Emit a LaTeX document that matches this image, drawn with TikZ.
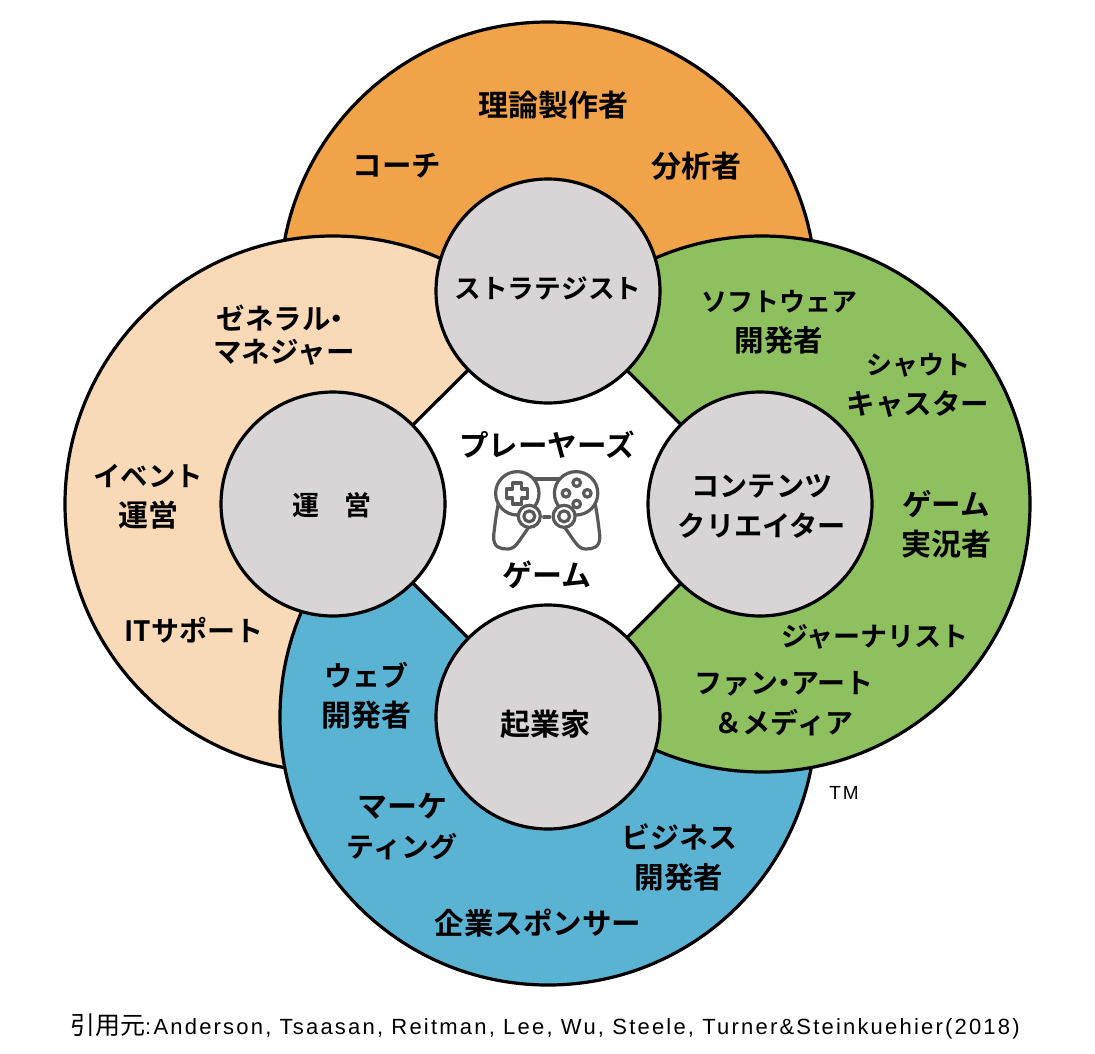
\documentclass[tikz,border=0pt]{standalone}
\usepackage{fontspec}
\setmainfont{Noto Sans CJK JP}[BoldFont={* Bold}]
\newfontfamily\footfont[LetterSpace=10]{Liberation Sans}
\newfontfamily\footcjk{Noto Sans CJK JP}
\newcommand\fs[2]{{\fontsize{#1}{40}\selectfont #2}}
\newcommand\tdot{\hspace{-.28em}・\hspace{-.28em}}
\definecolor{corange}{HTML}{F0A348}
\definecolor{cpeach}{HTML}{F8DAB8}
\definecolor{cgreen}{HTML}{8FC060}
\definecolor{cblue}{HTML}{5BB3D4}
\definecolor{cgrey}{HTML}{D9D5D7}
\definecolor{cicon}{HTML}{595959}
\tikzset{
  big/.style={draw=black,line width=3.2pt},
  hub/.style={draw=black,line width=3.2pt,fill=cgrey},
  lab/.style={font=\fontsize{26}{40}\selectfont\bfseries,align=center,inner sep=0pt,text=black},
  ic/.style={draw=cicon,line width=3.2pt,line join=round,line cap=round,fill=white},
}
\begin{document}
\begin{tikzpicture}[x=1pt,y=-1pt]
\useasboundingbox (0,0) rectangle (1095,1053);
\fill[white] (0,0) rectangle (1095,1053);
\draw[big,fill=corange] (548,290) circle (268);
\draw[big,fill=cpeach] (333,504) circle (268);
\draw[big,fill=cblue] (548,717) circle (268);
\draw[big,fill=cgreen] (762,504) circle (268);
\coordinate (T) at (548,291);
\coordinate (L) at (333,504);
\coordinate (B) at (548,717);
\coordinate (R) at (760,504);
\draw[big,fill=white] (T) -- (R) -- (B) -- (L) -- cycle;
\draw[hub] (T) circle (112);
\draw[hub] (L) circle (112);
\draw[hub] (B) circle (112);
\draw[hub] (R) circle (112);
% controller
\begin{scope}[shift={(546.7,0)}]
\foreach \s in {1,-1}{
\begin{scope}[xscale=\s]
\draw[ic] (-47,497) .. controls (-51,515) and (-52,527) .. (-53,535) .. controls (-54,548) and (-46,549) .. (-39,549) .. controls (-31,549) and (-28,541) .. (-17,526) -- (-10,510) -- cycle;
\draw[ic] (-29.4,493.3) circle (21.7);
\draw[ic] (-17.4,516.3) circle (11);
\draw[ic] (-17.4,516.3) circle (5.5);
\end{scope}}
\draw[ic,fill=none] (-12,479) -- (12,479);
\draw[ic,fill=none] (-3,517) -- (3,517);
\draw[ic] (-34,483) -- (-25,483) -- (-25,489) -- (-19,489) -- (-19,498) -- (-25,498) -- (-25,504) -- (-34,504) -- (-34,498) -- (-40,498) -- (-40,489) -- (-34,489) -- cycle;
\foreach \p/\q in {30/482.7,19.3/493.3,40.6/493.3,30/504}{
\draw[ic] (\p,\q) circle (3.8);}
\end{scope}
% labels
\node[lab] (n1) at (553,105) {\fs{30}{理論製作者}};
\node[lab] (n2) at (397,166) {\fs{29.5}{コーチ}};
\node[lab] (n3) at (696,166) {\fs{30}{分析者}};
\node[lab] (n4) at (548,288) {\fs{26.7}{ストラテジスト}};
\node[lab] (n5) at (779,322) {ソフトウェア\\\fs{29.5}{開発者}};
\node[lab] (n6) at (918,385) {シャウト\\\fs{28.5}{キャスター}};
\node[lab] (n7) at (946,524) {\fs{29.5}{ゲーム}\\\fs{30}{実況者}};
\node[lab] (n8) at (762,506) {\fs{28.2}{コンテンツ}\\\fs{28.2}{クリエイター}};
\node[lab] (n9) at (875,637) {\fs{27}{ジャーナリスト}};
\node[lab] (n10) at (784,704) {\fs{28}{ファン\tdot アート}\\\fs{28}{＆メディア}};
\node[lab] (n11) at (679,857) {\fs{29}{ビジネス}\\\fs{29.5}{開発者}};
\node[lab] (n12) at (538,923) {\fs{29.5}{企業スポンサー}};
\node[lab] (n13) at (402,827) {\fs{30}{マーケ}\\\fs{28}{ティング}};
\node[lab] (n14) at (366,696) {\fs{28}{ウェブ}\\\fs{30}{開発者}};
\node[lab] (n15) at (545,724) {\fs{30}{起業家}};
\node[lab] (n16) at (194,630) {\fs{28}{ITサポート}};
\node[lab] (n17) at (148,497) {\fs{27.5}{イベント}\\\fs{30}{運営}};
\node[lab] (n18) at (332,505) {\fs{27}{運\hspace{0.9em}営}};
\node[lab,font=\fontsize{28.5}{33}\selectfont\bfseries] (n19) at (284,335) {ゼネラル\tdot\\マネジャー};
\node[lab] (n20) at (547,445) {\fs{29.5}{プレーヤーズ}};
\node[lab] (n21) at (547,575) {\fs{30}{ゲーム}};
\node[font=\footfont\fontsize{19}{19}\selectfont,inner sep=0pt] (tm) at (844,793) {TM};
\node[inner sep=0pt,font=\footfont\fontsize{22}{24}\selectfont] (src) at (545,1026) {{\footcjk\fontsize{25}{24}\selectfont 引用元}:Anderson, Tsaasan, Reitman, Lee, Wu, Steele, Turner\&Steinkuehier(2018)};
\end{tikzpicture}
\end{document}
